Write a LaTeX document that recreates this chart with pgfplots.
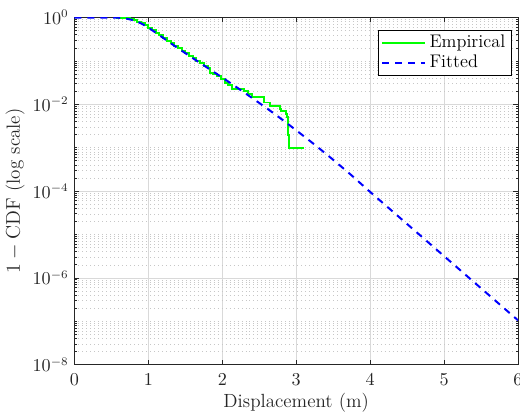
\documentclass[border={0pt 0pt 1.2pt 3pt}]{standalone}
\usepackage{pgfplots}
\pgfplotsset{compat=1.18}

\definecolor{axgray}{rgb}{0.15,0.15,0.15}

\begin{document}
\begin{tikzpicture}[trim axis right]
\begin{axis}[
    ymode=log,
    scale only axis,
    width=267.6pt,
    height=209.4pt,
    xmin=0, xmax=6,
    ymin=1e-8, ymax=1,
    xtick={0,1,2,3,4,5,6},
    ytick={1e-8,1e-6,1e-4,1e-2,1},
    minor ytick={2e-8,3e-8,4e-8,5e-8,6e-8,7e-8,8e-8,9e-8,
        1e-7,2e-7,3e-7,4e-7,5e-7,6e-7,7e-7,8e-7,9e-7,
        2e-6,3e-6,4e-6,5e-6,6e-6,7e-6,8e-6,9e-6,
        1e-5,2e-5,3e-5,4e-5,5e-5,6e-5,7e-5,8e-5,9e-5,
        2e-4,3e-4,4e-4,5e-4,6e-4,7e-4,8e-4,9e-4,
        1e-3,2e-3,3e-3,4e-3,5e-3,6e-3,7e-3,8e-3,9e-3,
        2e-2,3e-2,4e-2,5e-2,6e-2,7e-2,8e-2,9e-2,
        1e-1,2e-1,3e-1,4e-1,5e-1,6e-1,7e-1,8e-1,9e-1},
    xmajorgrids=true,
    ymajorgrids=true,
    yminorgrids=true,
    major grid style={draw=black!15, line width=0.4pt},
    minor grid style={draw=black!22, dotted, line width=0.3pt},
    axis line style={draw=axgray, line width=0.4pt},
    tick style={draw=axgray, line width=0.4pt},
    major tick length=3pt,
    minor tick length=1.5pt,
    tick align=inside,
    tick label style={font=\fontsize{10.5}{12}\selectfont, color=axgray},
    xticklabel style={yshift=-2pt},
    xlabel={Displacement (m)},
    ylabel={$1-\mathrm{CDF}$ (log scale)},
    label style={font=\fontsize{11.5}{13}\selectfont, color=axgray},
    xlabel style={yshift=2pt},
    ylabel style={yshift=-2pt},
    legend style={
        at={(0.985,0.965)}, anchor=north east,
        draw=black, line width=0.4pt,
        font=\fontsize{11}{13}\selectfont,
        inner xsep=1.5pt, inner ysep=1pt,
        row sep=-1pt,
    },
    legend cell align=left,
    legend image code/.code={\draw[#1] (0pt,0pt) -- (26pt,0pt);},
]
\addplot[color=green, line width=1.2pt, const plot] coordinates {
    (0.56,1) (0.65,0.977) (0.70,0.955) (0.75,0.912) (0.80,0.861)
    (0.85,0.804) (0.90,0.733) (0.95,0.661) (1.00,0.582) (1.05,0.513)
    (1.10,0.447) (1.15,0.389) (1.20,0.339) (1.25,0.295) (1.30,0.257)
    (1.35,0.224) (1.40,0.195) (1.45,0.170) (1.50,0.151) (1.55,0.132)
    (1.60,0.115) (1.65,0.100) (1.70,0.0891) (1.75,0.0776) (1.80,0.0676)
    (1.83,0.0537) (1.88,0.0501) (1.93,0.0447) (1.98,0.0380) (2.03,0.0316)
    (2.08,0.0275) (2.13,0.023) (2.30,0.020) (2.35,0.0174) (2.40,0.015)
    (2.57,0.011) (2.64,0.0093) (2.78,0.0079) (2.80,0.0071) (2.86,0.0060)
    (2.88,0.0050) (2.89,0.0032) (2.895,0.0020) (2.90,0.001) (3.11,0.001)
};
\addlegendentry{Empirical}
\addplot[color=blue, line width=1.2pt, dash pattern=on 4.2pt off 3.6pt, smooth, tension=0.4] coordinates {
    (0,1) (0.5,1) (0.6,0.9886) (0.7,0.944) (0.8,0.861) (0.9,0.733)
    (1.0,0.582) (1.1,0.447) (1.2,0.339) (1.3,0.257) (1.4,0.197)
    (1.5,0.151) (1.6,0.116) (1.8,0.0692) (2.0,0.0412) (2.2,0.0243)
    (2.4,0.0141) (2.6,0.00813) (2.8,0.00457) (3.0,0.00251) (3.25,0.00117)
    (3.5,5.25e-4) (3.75,2.29e-4) (4.0,9.55e-5) (4.5,1.74e-5) (5.0,3.16e-6)
    (5.5,5.75e-7) (6.0,1.05e-7)
};
\addlegendentry{Fitted}
\end{axis}
\end{tikzpicture}
\end{document}
